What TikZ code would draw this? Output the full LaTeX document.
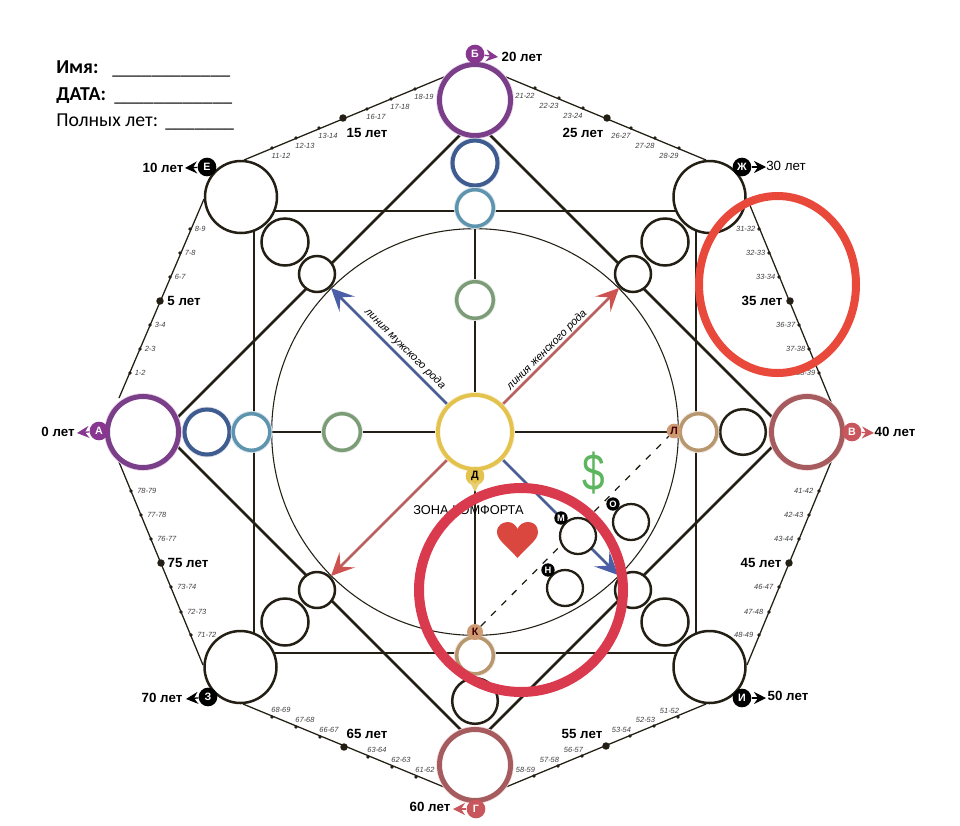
\documentclass[tikz,border=0pt]{standalone}
\usepackage{fontspec}
\setmainfont{Liberation Sans}
\newfontfamily\carl{Carlito}
\usetikzlibrary{arrows.meta}
\definecolor{ink}{HTML}{231F14}
\definecolor{purp}{HTML}{7A3F88}
\definecolor{purpB}{HTML}{A03FA8}
\definecolor{blu}{HTML}{3F5C90}
\definecolor{lblu}{HTML}{5E94AE}
\definecolor{grn}{HTML}{7C9C78}
\definecolor{gold}{HTML}{E3C34E}
\definecolor{brn}{HTML}{A65C5E}
\definecolor{brnB}{HTML}{C9565C}
\definecolor{tan1}{HTML}{B8976F}
\definecolor{tanB}{HTML}{CD9A72}
\definecolor{lineB}{HTML}{4A5E96}
\definecolor{headB}{HTML}{4A5FA8}
\definecolor{lineR}{HTML}{B8615F}
\definecolor{headR}{HTML}{CE5250}
\definecolor{ringA}{HTML}{E8493B}
\definecolor{ringB}{HTML}{DA3A4E}
\definecolor{heart}{HTML}{D9473F}
\definecolor{dollar}{HTML}{5DB55D}
\tikzset{
  x=0.75pt,y=-0.75pt,
  ringnode/.style n args={4}{circle,draw=#2,fill=white,line width=#3*0.75pt,
    minimum size=#1*1.5pt,inner sep=0pt,outer sep=0pt,
    preaction={draw=#4,line width=#3*0.75pt+1.2pt}},
  plainring/.style n args={2}{circle,draw=ink,fill=white,line width=#2*0.75pt,
    minimum size=#1*1.5pt,inner sep=0pt,outer sep=0pt},
  squareline/.style={draw=ink,line width=2.1pt},
  thinline/.style={draw=ink,line width=0.95pt},
  edgeline/.style={draw=ink,line width=0.95pt},
  tickdot/.style={circle,fill=ink,inner sep=0pt,minimum size=2.8pt},
  agedot/.style={circle,fill=ink,inner sep=0pt,minimum size=5.6pt},
  ticktext/.style={font=\fontsize{5.6}{6}\selectfont\itshape,text=black!75,inner sep=0pt},
  agetext/.style={font=\fontsize{10}{11}\selectfont\bfseries,text=black,inner sep=0pt},
  badge/.style={circle,fill=#1,inner sep=0pt,minimum size=14pt,text=white,
    font=\fontsize{8}{8}\selectfont\bfseries},
  smalltip/.style={-{Stealth[length=9pt,width=9pt,inset=3pt]},line width=1pt,draw=#1},
  bigarrowB/.style={line width=1.9pt,draw=lineB,
    arrows={-{Stealth[length=17pt,width=16pt,inset=7pt,color=headB]}}},
  bigarrowR/.style={line width=1.9pt,draw=lineR,
    arrows={-{Stealth[length=17pt,width=16pt,inset=7pt,color=headR]}}},
  formtext/.style={font=\carl\fontsize{14.8}{16}\selectfont,anchor=base west,inner sep=0pt},
}
\begin{document}
\begin{tikzpicture}
\useasboundingbox (0,0) rectangle (960,825);
\fill[white] (0,0) rectangle (960,825);

% construction points
\coordinate (sqTL) at (254,211);
\coordinate (sqBR) at (696,653);
\coordinate (dW) at (163,432);
\coordinate (dN) at (475,120);
\coordinate (dE) at (787,432);
\coordinate (dS) at (475,744);
\coordinate (tipNW) at (331,288);
\coordinate (tipNE) at (619,288);
\coordinate (tipSW) at (331,576);
\coordinate (tipSE) at (618,575);

% outer octagon
\coordinate (e1a) at (119,398); \coordinate (e1b) at (204,199);
\coordinate (e2a) at (244,160); \coordinate (e2b) at (444,77);
\coordinate (e3a) at (506,77);  \coordinate (e3b) at (706,160);
\coordinate (e4a) at (749,203); \coordinate (e4b) at (831,402);
\coordinate (e5a) at (831,462); \coordinate (e5b) at (747,665);
\coordinate (e6a) at (706,704); \coordinate (e6b) at (506,787);
\coordinate (e7a) at (444,787); \coordinate (e7b) at (243,704);
\coordinate (e8a) at (203,665); \coordinate (e8b) at (119,462);
\foreach \n in {1,...,8} \draw[edgeline] (e\n a) -- (e\n b);

% tick marks with labels
\foreach \x/\y/\t in {130/373/1-2,140/349/2-3,150/325/3-4,170/277/6-7,180/253/7-8,190/229/8-9}
  \node[tickdot] at (\x,\y) {} node[ticktext,anchor=west] at ({\x+4.5},\y) {\t};
\foreach \x/\y/\t in {272/148/11-12,296/138/12-13,319/128/13-14,367/109/16-17,391/99/17-18,415/89/18-19}
  \node[tickdot] at (\x,\y) {} node[ticktext] at ({\x+9},{\y+8}) {\t};
\foreach \x/\y/\t in {535/88/21-22,559/98/22-23,583/108/23-24,631/128/26-27,655/138/27-28,679/148/28-29}
  \node[tickdot] at (\x,\y) {} node[ticktext] at ({\x-10},{\y+8}) {\t};
\foreach \x/\y/\t in {759/229/31-32,769/253/32-33,779/277/33-34,799/325/36-37,809/349/37-38,819/373/38-39}
  \node[tickdot] at (\x,\y) {} node[ticktext,anchor=east] at ({\x-3.5},\y) {\t};
\foreach \x/\y/\t in {819/491/41-42,809/515/42-43,799/539/43-44,779/587/46-47,769/612/47-48,759/635/48-49}
  \node[tickdot] at (\x,\y) {} node[ticktext,anchor=east] at ({\x-5.5},\y) {\t};
\foreach \x/\y/\t in {678/717/51-52,654/726/52-53,630/736/53-54,582/756/56-57,558/766/57-58,534/776/58-59}
  \node[tickdot] at (\x,\y) {} node[ticktext] at ({\x-8.5},{\y-6.5}) {\t};
\foreach \x/\y/\t in {416/777/61-62,392/767/62-63,368/757/63-64,320/737/66-67,296/727/67-68,272/717/68-69}
  \node[tickdot] at (\x,\y) {} node[ticktext] at ({\x+9},{\y-7}) {\t};
\foreach \x/\y/\t in {191/635/71-72,181/612/72-73,171/587/73-74,151/539/76-77,141/515/77-78,131/491/78-79}
  \node[tickdot] at (\x,\y) {} node[ticktext,anchor=west] at ({\x+6},\y) {\t};

% five-year dots and labels
\foreach \x/\y/\lx/\ly/\t in {160/301/184/301/5,343/118/367/133/15,607/118/583/133/25,790/301/762/301/35,
    789/563/761/563/45,606/746/582/734/55,344/747/367/734/65,161/563/188/563/75}
  \node[agedot] at (\x,\y) {} node[agetext] at (\lx,\ly) {\t{} лет};

% square and diamond
\draw[squareline] (sqTL) rectangle (sqBR);
\draw[squareline] (dW) -- (dN) -- (dE) -- (dS) -- cycle;

% comfort circle
\node[circle,draw=ink,line width=0.8pt,minimum size=305pt,inner sep=0pt,outer sep=0pt] (comfort) at (475,432) {};

% cross-lines
\coordinate (c) at (475,432);
\node[ringnode={18.3}{lblu}{3.5}{lblu!25}] (lbT) at (475,208) {};
\node[ringnode={18.3}{lblu}{3.5}{lblu!25}] (lbL) at (251.5,432) {};
\node[ringnode={18.3}{tan1}{3.5}{tan1!25}] (tanR) at (698.5,432) {};
\node[ringnode={18.3}{tan1}{3.5}{tan1!25}] (tanB) at (475,655.5) {};
\draw[thinline] (c) -- (lbT);
\draw[thinline] (c) -- (lbL);
\draw[thinline] (c) -- (tanR);
\draw[thinline] (c) -- (tanB);

% gender arrows
\draw[bigarrowB] (c) -- (tipNW);
\draw[bigarrowB] (c) -- (tipSE);
\draw[bigarrowR] (c) -- (tipNE);
\draw[bigarrowR] (c) -- (tipSW);
\node[font=\fontsize{8.2}{9}\selectfont\itshape,rotate=-45,inner sep=0pt] at (405,349) {линия мужского рода};
\node[font=\fontsize{8.2}{9}\selectfont\itshape,rotate=45,inner sep=0pt] at (547,350) {линия женского рода};

% the four great circles
\node[ringnode={35.5}{purp}{5}{purpB!25}] (nA) at (143,432) {};
\node[ringnode={35.5}{purp}{5}{purpB!25}] (nB) at (475,100) {};
\node[ringnode={35.5}{brn}{5}{brnB!20}] (nV) at (807,432) {};
\node[ringnode={35.5}{brn}{5}{brnB!20}] (nG) at (475,765) {};

% chakra-line circles
\node[ringnode={22.5}{blu}{4}{blu!20}] (blT) at (475,163) {};
\node[ringnode={22.5}{blu}{4}{blu!20}] (blL) at (207,432) {};
\node[ringnode={18.3}{grn}{3.5}{grn!25}] (grT) at (475,300) {};
\node[ringnode={18.3}{grn}{3.5}{grn!25}] (grL) at (342,432) {};
\node[plainring={22.8}{2.5}] (mR) at (743,432) {};
\node[plainring={22.8}{2.5}] (mB) at (475,701) {};
\node[ringnode={18.3}{lblu}{3.5}{lblu!25}] at (lbT) {};
\node[ringnode={18.3}{lblu}{3.5}{lblu!25}] at (lbL) {};
\node[ringnode={18.3}{tan1}{3.5}{tan1!25}] at (tanR) {};
\node[ringnode={18.3}{tan1}{3.5}{tan1!25}] at (tanB) {};

% centre
\node[ringnode={37}{gold}{4}{gold!35}] (nC) at (c) {};

% corner groups
\node[plainring={36}{2.5}] (nE) at (241,197) {};
\node[plainring={36}{2.5}] (nJ) at (709.5,197) {};
\node[plainring={36}{2.5}] (nZ) at (240.5,667) {};
\node[plainring={36}{2.5}] (nI) at (709.5,667) {};
\node[plainring={23.5}{2.5}] (m1) at (285,242) {};
\node[plainring={23.5}{2.5}] (m2) at (665,242) {};
\node[plainring={23.5}{2.5}] (m3) at (285,622) {};
\node[plainring={23.5}{2.5}] (m4) at (665,622) {};
\node[plainring={18}{2.5}] (s1) at (317,274) {};
\node[plainring={18}{2.5}] (s2) at (633,274) {};
\node[plainring={18}{2.5}] (s3) at (317,590) {};
\node[plainring={18}{2.5}] (s4) at (633,590) {};

% dashed
\node[badge=tanB,text=black!75!red,minimum size=12pt] (bK) at (475,632) {К};
\node[badge=tanB,text=black!75!red,minimum size=11pt] (bL) at (674,431) {Л};
\draw[thinline,dash pattern=on 5pt off 6pt] (bK) -- (bL);

% inner circles
\node[plainring={18}{2.3}] (cM) at (578,536) {};
\node[plainring={18}{2.3}] (cO) at (631,522) {};
\node[plainring={18}{2.3}] (cN) at (565,588) {};

% comfort zone content
\node[font=\fontsize{9.6}{11}\selectfont,inner sep=0pt] (zone) at (468.5,510) {ЗОНА КОМФОРТА};
\fill[heart] (517.5,558) .. controls (507,546) and (497,540) .. (497,532) .. controls (497,525) and (503,522) .. (508,522)
  .. controls (512,522) and (516,525) .. (517.5,529) .. controls (519,525) and (523,522) .. (528,522)
  .. controls (533,522) and (538,525) .. (538,532) .. controls (538,540) and (528,546) .. (517.5,558) -- cycle;
\node[font=\fontsize{39}{40}\selectfont,text=dollar,inner sep=0pt] (usd) at (594,473) {\scalebox{0.78}[1]{\$}};

% age badges with arrows
\coordinate (aA) at (77,433);  \coordinate (aB) at (498,57);
\coordinate (aV) at (874,433); \coordinate (aG) at (453,809);
\coordinate (aE) at (185,168); \coordinate (aJ) at (766,167);
\coordinate (aZ) at (186,699); \coordinate (aI) at (766,698);
\node[badge=purpB!85!black] (bA) at (99,431) {А};
\node[badge=purpB!85!black] (bB) at (475,54) {Б};
\node[badge=brnB] (bV) at (852,432) {В};
\node[badge=brnB] (bG) at (476,809) {Г};
\node[badge=black] (bE) at (207,167) {Е};
\node[badge=black] (bJ) at (742,167) {Ж};
\node[badge=black] (bZ) at (208,697) {З};
\node[badge=black] (bI) at (742,698) {И};
\draw[smalltip=purpB!85!black] (bA) -- (aA);
\draw[smalltip=purpB!85!black] (bB) -- (aB);
\draw[smalltip=brnB] (bV) -- (aV);
\draw[smalltip=brnB] (bG) -- (aG);
\draw[smalltip=black] (bE) -- (aE);
\draw[smalltip=black] (bJ) -- (aJ);
\draw[smalltip=black] (bZ) -- (aZ);
\draw[smalltip=black] (bI) -- (aI);
\node[agetext] at (58,432) {0 лет};
\node[agetext] at (522,57) {20 лет};
\node[agetext] at (895,432) {40 лет};
\node[agetext] at (430,807) {60 лет};
\node[agetext] at (163,168) {10 лет};
\node[agetext,font=\fontsize{10}{11}\selectfont] at (786,166) {30 лет};
\node[agetext] at (162,698) {70 лет};
\node[agetext] at (788,696) {50 лет};

\node[badge=gold,text=black] (bD) at (475,476) {Д};
\coordinate (aD) at (475,492);
\draw[smalltip=gold!80] (bD) -- (aD);

% red hand-drawn rings
\draw[ringA,line width=6pt] (777.5,284.5) ellipse [x radius=78.5,y radius=88.5];
\draw[ringB,line width=7.5pt] (521,590) ellipse [x radius=102,y radius=102];

% badges sitting on the inner circles
\node[badge=black,minimum size=10pt,font=\fontsize{7}{7}\selectfont\bfseries] (bM) at (561,518) {М};
\node[badge=black,minimum size=10pt,font=\fontsize{7}{7}\selectfont\bfseries] (bO) at (613,504) {О};
\node[badge=black,minimum size=10pt,font=\fontsize{7}{7}\selectfont\bfseries] (bN) at (548,570) {Н};

% form text
\node[formtext,font=\carl\bfseries\fontsize{14.8}{16}\selectfont] (fName) at (56,73) {Имя:};
\node[formtext,font=\carl\bfseries\fontsize{14.8}{16}\selectfont] (fDate) at (56,100) {ДАТА:};
\node[formtext] (fAge) at (56,126) {Полных лет:};
\node[formtext] at (112,74) {\_\_\_\_\_\_\_\_\_\_\_\_};
\node[formtext] at (114,101) {\_\_\_\_\_\_\_\_\_\_\_\_};
\node[formtext] at (165,127) {\_\_\_\_\_\_\_};
\end{tikzpicture}
\end{document}
